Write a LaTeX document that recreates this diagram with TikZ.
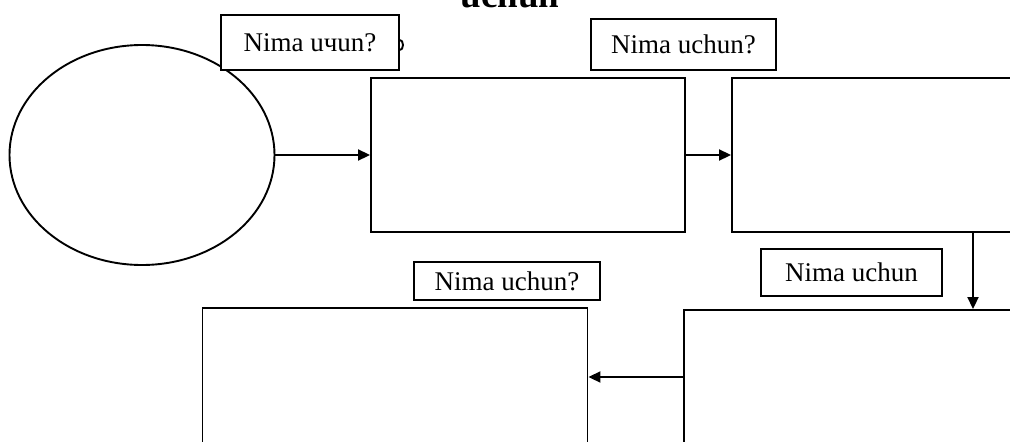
\documentclass[tikz,border=0pt]{standalone}
\usepackage{fontspec}
\setmainfont{Liberation Serif}
\usetikzlibrary{shapes.geometric,arrows.meta}
\tikzset{
  frame/.style={draw, line width=1.9pt, inner sep=0pt},
  ask/.style={frame, font=\fontsize{27}{30}\selectfont},
  flow/.style={line width=1.9pt, -{Triangle[length=12pt,width=11pt]}}
}
\begin{document}
\begin{tikzpicture}[x=1pt,y=-1pt]
\useasboundingbox (0,0) rectangle (1010,442);
\node[font=\fontsize{37}{40}\selectfont\bfseries, anchor=base] (title) at (510,7) {uchun};
\node[frame, ellipse, minimum width=265pt, minimum height=220pt] (root) at (142,155) {};
\node[frame, minimum width=314pt, minimum height=154pt] (why1) at (528,155) {};
\node[frame, minimum width=290pt, minimum height=154pt] (why2) at (877,155) {};
\node[frame, minimum width=340pt, minimum height=134pt] (why3) at (854,377) {};
\node[frame, minimum width=385pt, minimum height=138pt] (why4) at (395,377) {};

% labels
\node[ask, fill=white, minimum width=178pt, minimum height=55pt] (q1) at (310,42.5) {Nima uчun?};
\node[ask, minimum width=185pt, minimum height=51pt] (q2) at (683.5,44.5) {Nima uchun?};
\node[ask, minimum width=181pt, minimum height=47pt] (q3) at (851.5,272.5) {Nima uchun};
\node[ask, minimum width=186pt, minimum height=38pt] (q4) at (507,281) {Nima uchun?};

% edges
\coordinate (down) at (973,232);
\draw[flow] (root) -- (why1);
\draw[flow] (why1) -- (why2);
\draw[flow] (down) -- (down |- why3.north);
\draw[flow] (why3) -- (why4);
\draw[line width=1.9pt] (400,40) arc (90:-90:3pt and 5pt); % stray tip
\end{tikzpicture}
\end{document}
